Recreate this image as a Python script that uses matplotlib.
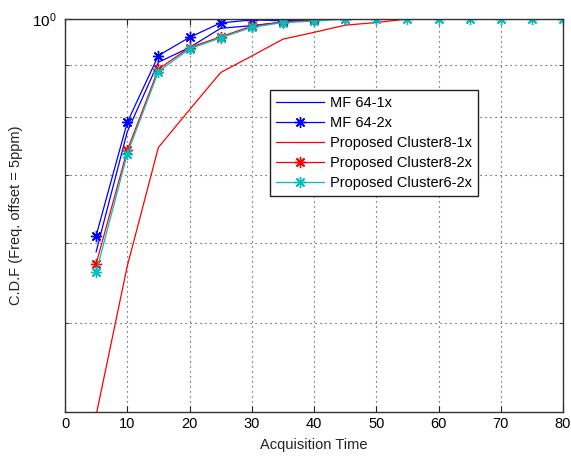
import matplotlib
matplotlib.use("Agg")
import matplotlib.pyplot as plt
from matplotlib.ticker import FixedLocator, NullFormatter

plt.rcParams['font.family'] = ['Liberation Sans', 'DejaVu Sans']
plt.rcParams['mathtext.default'] = 'regular'

# Data
x_mf1 = [5, 10, 15, 20, 25, 30, 35, 40, 45]
y_mf1 = [0.588, 0.773, 0.906, 0.937, 0.979, 0.985, 0.993, 0.999, 1.0]

x_mf2 = [5, 10, 15, 20, 25, 30, 35, 40, 45]
y_mf2 = [0.610, 0.790, 0.920, 0.959, 0.991, 0.998, 0.996, 0.999, 1.0]

x_c8_1 = [5, 10, 15, 20, 25, 30, 35, 40, 45, 50, 55]
y_c8_1 = [0.405, 0.569, 0.746, 0.813, 0.885, 0.919, 0.955, 0.970, 0.986, 0.992, 1.0]

x_c8_2 = [5, 10, 15, 20, 25, 30, 35, 40]
y_c8_2 = [0.572, 0.741, 0.892, 0.937, 0.960, 0.984, 0.993, 0.997]

x_c6_2 = [5, 10, 15, 20, 25, 30, 35, 40, 45, 50, 55, 60, 65, 70, 75, 80]
y_c6_2 = [0.561, 0.735, 0.887, 0.934, 0.958, 0.981, 0.992, 0.995, 1.0, 1.0, 1.0, 1.0, 1.0, 1.0, 1.0, 1.0]

labels = ['MF 64-1x', 'MF 64-2x', 'Proposed Cluster8-1x', 'Proposed Cluster8-2x', 'Proposed Cluster6-2x']
xticks = [0, 10, 20, 30, 40, 50, 60, 70, 80]
yminor = [0.5, 0.6, 0.7, 0.8, 0.9]

fig = plt.figure(figsize=(5.71, 4.58), dpi=100)
ax = fig.add_axes([65/571, 1-412/458, (563-65)/571, (412-19)/458])
ax.set_yscale('log')

lw = 0.9
star = (8, 2, 0)
mk = dict(marker=star, ms=8, mew=1.0)
ax.plot(x_mf1, y_mf1, color='b', lw=lw, label=labels[0])
ax.plot(x_mf2, y_mf2, color='b', lw=lw, label=labels[1], **mk)
ax.plot(x_c8_1, y_c8_1, color='r', lw=lw, label=labels[2])
ax.plot(x_c8_2, y_c8_2, color='r', lw=lw, label=labels[3], **mk)
ax.plot(x_c6_2, y_c6_2, color='c', lw=lw, label=labels[4], **mk)

ax.set_xlim(0, 80)
ax.set_ylim(0.408, 1.0)
ax.set_xticks(xticks)
ax.yaxis.set_major_locator(FixedLocator([1.0]))
ax.yaxis.set_major_formatter(matplotlib.ticker.FixedFormatter(['$10^0$']))
ax.yaxis.set_minor_locator(FixedLocator(yminor))
ax.yaxis.set_minor_formatter(NullFormatter())

ax.tick_params(which='both', direction='in', top=True, right=True, labelsize=10.5, color='#222222')
ax.tick_params(which='major', length=4)
ax.tick_params(which='minor', length=3)
ax.tick_params(axis='y', which='major', labelsize=11, pad=6)

gkw = dict(color='#333333', linestyle=(0, (1, 3.5)), linewidth=0.8)
ax.grid(True, which='major', axis='x', **gkw)
ax.grid(True, which='minor', axis='y', **gkw)
ax.grid(True, which='major', axis='y', **gkw)

for s in ax.spines.values():
    s.set_color('#333333')
    s.set_linewidth(1.0)

ax.set_xlabel('Acquisition Time', fontsize=10.5, color='#222222', labelpad=5)
ax.set_ylabel('C.D.F (Freq. offset = 5ppm)', fontsize=10.5, color='#222222')
ax.yaxis.set_label_coords(-0.084, 0.5)

leg = ax.legend(loc='upper left', bbox_to_anchor=((270-65)/498, (412-90)/393),
                fontsize=10.5, fancybox=False, framealpha=1, edgecolor='#222222',
                handlelength=3.3, handletextpad=0.4, labelspacing=0.42,
                borderpad=0.4, borderaxespad=0)
leg.get_frame().set_linewidth(1.0)

fig.savefig('out.png', dpi=100)
